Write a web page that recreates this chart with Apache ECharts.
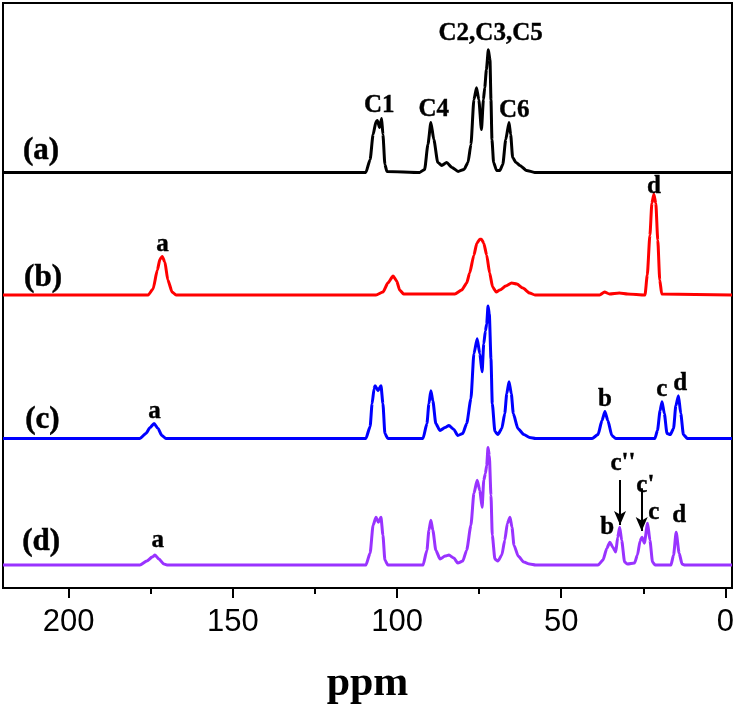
<!DOCTYPE html>
<html>
<head>
<meta charset="utf-8">
<script src="https://cdn.jsdelivr.net/npm/echarts@6/dist/echarts.min.js"></script>
<style>
html,body{margin:0;padding:0;background:#fff;}
#chart{width:740px;height:710px;}
</style>
</head>
<body>
<div id="chart"></div>
<script>
// ---- data: [ppm, intensity above own baseline] ----
const traceNames = ['(a)', '(b)', '(c)', '(d)'];
const traceColors = ['#000000', '#ff0000', '#0000ff', '#9933ff'];
const baselines = [417, 294, 150, 23];

const traceA = [
  [220,0],[109.5,0],[108.2,13],[107.3,38],[106.4,51],[106.0,52],[105.3,45],[104.7,54],[104.3,38],
  [103.7,8],[103.1,1],[93.1,0],[91.6,3],[90.6,28],[89.7,50],[88.8,33],[87.6,10],[86.4,7],
  [84.9,10],[83.3,5],[81.4,1],[79.6,3],[78.4,10],[77.5,28],[76.6,73],[75.8,85],[75.1,73],
  [74.3,43],[73.7,73],[73.3,85],[72.8,103],[72.2,123],[71.7,113],[71.4,73],[71.1,33],
  [70.6,10],[69.7,2],[68.7,2],[67.8,8],[66.9,33],[65.9,50],[65.4,38],[64.8,15],[63.8,10],
  [62.6,7],[60.6,2],[58.1,0],[-2,0]
];
const traceB = [
  [220,0],[175.8,0],[174.3,6],[173.0,25],[172.2,36],[171.5,38.7],[170.7,33],[169.8,15],
  [168.5,3],[167.3,0],[106.4,0],[104.3,3],[102.8,12],[101.2,19],[100.1,14],[99.2,5],[98.0,1],
  [82.4,1],[80.3,5],[78.8,12],[77.9,22],[76.6,40],[75.7,52],[74.8,56],[74.3,56],[73.6,52],
  [72.7,40],[71.8,22],[70.9,8],[69.8,3],[68.7,5],[66.9,9],[65.1,12],[63.5,11],[61.7,7],
  [59.6,2],[58.0,0],[38.3,0],[36.8,3],[35.3,1],[32.3,2],[29.8,1],[24.5,0],[23.8,20],
  [23.0,60],[22.4,92],[21.8,101],[21.2,92],[20.6,55],[20.0,15],[19.4,1],[-2,0]
];
const traceC = [
  [220,0],[178.3,0],[176.5,5],[175.2,11],[174.0,15],[172.8,10],[171.6,3],[170.4,0],
  [109.5,0],[108.2,12],[107.6,35],[107.0,50],[106.7,53],[105.8,48],[104.9,53],[104.3,35],
  [103.7,5],[102.8,0],[92.1,0],[90.9,15],[90.3,35],[89.7,48],[89.1,38],[88.2,15],[86.9,8],
  [85.4,11],[84.2,13],[82.7,9],[81.5,3],[80.0,5],[78.8,15],[77.5,40],[76.6,85],[75.6,100],
  [74.8,85],[74.1,67],[73.6,95],[73.1,108],[72.7,115],[72.3,133],[71.9,125],[71.4,80],
  [71.0,35],[70.2,7],[69.3,4],[68.1,10],[67.2,25],[66.6,45],[65.9,57],[65.2,45],[64.6,25],
  [63.2,10],[61.4,4],[59.6,1],[57.8,0],[40.6,0],[38.8,4],[37.6,18],[36.7,27],[35.8,18],
  [34.6,3],[33.4,0],[21.5,0],[20.7,8],[19.9,28],[19.3,37],[18.6,25],[17.8,5],[16.8,4],
  [15.8,10],[15.1,33],[14.3,43],[13.6,25],[12.8,4],[11.6,0],[-2,0]
];
const traceD = [
  [220,0],[178.3,0],[176.2,4],[174.6,8],[173.7,10],[172.5,6],[171.0,1],[169.8,0],
  [109.5,0],[108.2,12],[107.3,40],[106.4,48],[105.7,43],[104.9,48],[104.3,30],[103.7,5],
  [102.8,0],[92.1,0],[90.9,15],[90.3,35],[89.7,45],[89.1,35],[88.2,15],[86.9,6],[85.4,9],
  [84.2,10],[82.7,7],[81.5,2],[80.0,4],[78.8,15],[77.5,40],[76.6,72],[75.6,85],[74.8,75],
  [74.1,58],[73.6,85],[73.1,92],[72.7,100],[72.3,118],[71.9,110],[71.4,70],[71.0,30],
  [70.2,6],[69.3,4],[68.1,10],[67.2,25],[66.4,42],[65.6,48],[65.0,38],[64.4,20],[63.1,9],
  [61.4,3],[59.6,1],[57.8,0],[38.8,0],[37.3,5],[36.1,17],[35.2,23],[34.3,18],[33.4,13],
  [32.8,28],[32.2,38],[31.6,25],[30.7,3],[29.8,1],[27.7,2],[26.8,10],[26.0,24],[25.4,28],
  [24.7,22],[23.7,42],[23.0,25],[22.2,3],[21.4,0],[16.6,0],[15.8,10],[15.0,33],[14.1,12],
  [13.2,1],[12.3,0],[-2,0]
];
const traces = [traceA, traceB, traceC, traceD];

// trace name labels: [ppm, y]
const traceLabelPos = [[208.4,439],[207.8,311],[208.0,168.5],[208.4,46]];
// peak annotations: [ppm, y, text]
const peakLabels = [
  [105.4,484,'C1'],[88.8,479.7,'C4'],[71.5,556.2,'C2,C3,C5'],[64.3,478.7,'C6'],
  [171.4,344.5,'a'],[21.8,403.3,'d'],
  [173.9,176.7,'a'],[36.7,189.2,'b'],[19.4,199.2,'c'],[13.8,205,'d'],
  [172.9,47.5,'a'],[36.0,60.8,'b'],[31.2,125,"c''"],[24.4,103.3,"c'"],[21.8,75.8,'c'],[14.1,72.5,'d']
];
// arrows: [ppm, yStart, yEnd]
const arrows = [[32.1,108.3,63.3],[25.5,100,57.3]];

const majorTicks = [0,50,100,150,200];
const minorTicks = [25,75,125,175];

const chart = echarts.init(document.getElementById('chart'));
const series = traces.map((t, i) => ({
  type: 'line',
  name: traceNames[i],
  data: t.map(p => [p[0], p[1] + baselines[i]]),
  showSymbol: false,
  smooth: 0.2,
  smoothMonotone: 'x',
  lineStyle: {color: traceColors[i], width: 3},
  itemStyle: {color: traceColors[i]},
  silent: true,
  z: 3
}));
series.push({
  type: 'scatter',
  data: traceNames.map((n, i) => ({value: traceLabelPos[i], name: n})),
  symbolSize: 0,
  silent: true,
  itemStyle: {opacity: 1, color: '#000'},
  label: {show: true, position: [0,0], align: 'center', verticalAlign: 'middle', opacity: 1,
    formatter: p => p.name, fontFamily: 'Liberation Serif', fontWeight: 'bold', fontSize: 31,
    color: '#000', textBorderColor: '#000', textBorderWidth: 0.5},
  z: 5
});
series.push({
  type: 'scatter',
  data: peakLabels.map(p => ({value: [p[0], p[1]], name: p[2]})),
  symbolSize: 0,
  silent: true,
  itemStyle: {opacity: 1, color: '#000'},
  label: {show: true, position: [0,0], align: 'center', verticalAlign: 'middle', opacity: 1,
    formatter: p => p.name, fontFamily: 'Liberation Serif', fontWeight: 'bold', fontSize: 25,
    color: '#000', textBorderColor: '#000', textBorderWidth: 0.4},
  markLine: {
    silent: true,
    symbol: ['none', 'arrow'],
    symbolSize: [9, 14],
    label: {show: false},
    lineStyle: {color: '#000', width: 2, type: 'solid', opacity: 1},
    data: arrows.map(a => [{coord: [a[0], a[1]]}, {coord: [a[0], a[2]]}])
  },
  z: 5
});

chart.setOption({
  backgroundColor: '#fff',
  animation: false,
  grid: {left: 3, right: 8, top: 3, bottom: 120, show: true, borderColor: '#000', borderWidth: 2, backgroundColor: 'transparent'},
  xAxis: [{
    type: 'value', min: -2, max: 220, inverse: true,
    name: 'ppm', nameLocation: 'middle', nameGap: 75,
    nameTextStyle: {fontFamily: 'Liberation Serif', fontWeight: 'bold', fontSize: 42, color: '#000'},
    axisLine: {show: true, lineStyle: {color: '#000', width: 2}},
    axisTick: {show: true, customValues: majorTicks, length: 10, lineStyle: {color: '#000', width: 2}},
    axisLabel: {show: true, customValues: majorTicks, margin: 19, fontFamily: 'Liberation Sans', fontSize: 31, color: '#000'},
    splitLine: {show: false}
  }, {
    type: 'value', min: -2, max: 220, inverse: true, position: 'bottom',
    axisLine: {show: false},
    axisTick: {show: true, customValues: minorTicks, length: 6, lineStyle: {color: '#000', width: 2}},
    axisLabel: {show: false},
    splitLine: {show: false}
  }],
  yAxis: {type: 'value', min: 0, max: 587, show: false},
  series: series
});
</script>
</body>
</html>
